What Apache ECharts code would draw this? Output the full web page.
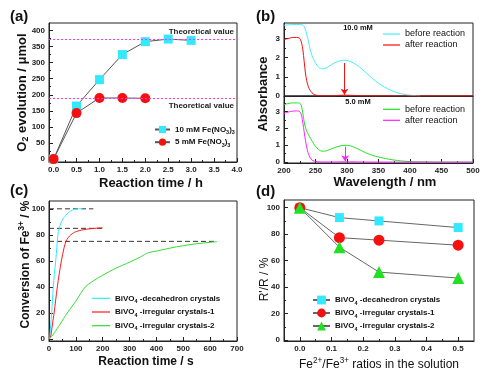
<!DOCTYPE html>
<html>
<head>
<meta charset="utf-8">
<script src="https://cdn.jsdelivr.net/npm/echarts@6/dist/echarts.min.js"></script>
<style>
html, body { margin: 0; padding: 0; background: #fff; }
#chart { width: 486px; height: 375px; }
</style>
</head>
<body>
<div id="chart"></div>
<script>
var FONT = '"Liberation Sans", Arial, sans-serif';

// (a) O2 evolution vs time
var aTime10 = [0, 0.5, 1.0, 1.5, 2.0, 2.5, 3.0];
var aO2Fe10 = [0, 165, 247, 325, 365, 373, 369];
var aTime5 = [0, 0.5, 1.0, 1.5, 2.0];
var aO2Fe5 = [0, 143, 190, 190, 189];
var aTheory = [374, 188];
var aXTicks = [0, 0.5, 1, 1.5, 2, 2.5, 3, 3.5, 4];
var aYTicks = [0, 50, 100, 150, 200, 250, 300, 350, 400];

// (b) absorbance spectra
var wl10Before = [200, 205, 210, 215, 220, 225, 229, 232, 235, 238, 241, 244, 247, 250, 253, 256, 260, 265, 270, 275, 280, 285, 290, 295, 300, 305, 310, 315, 320, 325, 330, 340, 350, 360, 370, 380, 390, 400, 410, 416];
var abs10Before = [3.68, 3.70, 3.71, 3.72, 3.72, 3.72, 3.70, 3.62, 3.35, 2.95, 2.5, 2.15, 1.9, 1.72, 1.58, 1.47, 1.41, 1.44, 1.52, 1.62, 1.72, 1.79, 1.84, 1.86, 1.85, 1.80, 1.72, 1.62, 1.50, 1.36, 1.22, 0.92, 0.66, 0.46, 0.29, 0.17, 0.09, 0.04, 0.02, 0.01];
var wl10After = [200, 205, 210, 215, 220, 224, 226, 228, 230, 232, 234, 236, 238, 240, 243, 246, 250, 255, 260, 270, 280, 285, 290, 300, 310, 315, 320, 340, 400, 500];
var abs10After = [2.93, 2.98, 3.02, 3.05, 3.05, 3.02, 2.95, 2.75, 2.40, 1.80, 1.20, 0.80, 0.55, 0.38, 0.22, 0.12, 0.05, 0.02, 0.01, 0.005, 0.01, 0.03, 0.04, 0.04, 0.03, 0.02, 0.01, 0.005, 0, 0];
var wl5Before = [200, 205, 210, 215, 220, 225, 227, 229, 231, 233, 236, 239, 242, 245, 249, 254, 260, 266, 272, 280, 288, 297, 305, 313, 321, 329, 337, 345, 353, 361, 370, 380, 390, 400, 415, 430, 460, 500];
var abs5Before = [3.40, 3.46, 3.50, 3.51, 3.51, 3.50, 3.40, 3.10, 2.65, 2.20, 1.85, 1.63, 1.40, 1.22, 0.98, 0.78, 0.65, 0.66, 0.74, 0.86, 0.95, 1.00, 0.97, 0.86, 0.72, 0.57, 0.45, 0.35, 0.28, 0.22, 0.15, 0.10, 0.06, 0.03, 0.015, 0.005, 0, 0];
var wl5After = [200, 205, 210, 215, 220, 224, 226, 228, 230, 232, 234, 236, 238, 240, 243, 246, 250, 255, 260, 280, 290, 300, 310, 320, 340, 500];
var abs5After = [2.88, 2.95, 3.0, 3.03, 3.04, 3.02, 2.95, 2.75, 2.30, 1.80, 1.30, 0.90, 0.58, 0.38, 0.18, 0.09, 0.04, 0.02, 0.01, 0.01, 0.02, 0.02, 0.02, 0.01, 0.005, 0];
var arrow10 = [296, 1.72, 0.07];   // wavelength, from, to
var arrow5 = [297, 0.92, 0.05];
var bXTicks = [200, 250, 300, 350, 400, 450, 500];
var bYTicks = [0, 1, 2, 3];

// (c) conversion of Fe3+
var cDecaT = [0, 3, 6, 10, 13, 16, 20, 25, 29, 33, 38, 46, 54, 62, 72, 82, 95, 110, 125];
var cDecaC = [0, 2, 10, 20, 30, 40, 50, 60, 70, 80, 85, 90, 93, 95, 97, 98.5, 99.5, 100, 100.2];
var cIrr1T = [0, 5, 8, 12, 16, 19, 25, 31, 38, 46, 56, 63, 72, 81, 95, 112, 130, 150, 175, 200];
var cIrr1C = [0, 1, 4, 10, 16, 20, 30, 40, 50, 60, 70, 75, 78, 80, 82, 83.2, 84, 84.6, 85.1, 85.4];
var cIrr2T = [0, 10, 20, 30, 40, 55, 68, 85, 100, 118, 135, 160, 200, 250, 300, 340, 370, 400, 450, 500, 550, 600, 625];
var cIrr2C = [0, 2, 5, 8, 11, 16, 20, 25, 29, 35, 40, 44, 49, 54.5, 59, 63, 66.3, 67.5, 69.8, 71.7, 73.2, 74.3, 74.8];
var cLevels = [100, 85, 75];
var cLevelEnds = [165, 200, 625];
var cXTicks = [0, 100, 200, 300, 400, 500, 600, 700];
var cYTicks = [0, 20, 40, 60, 80, 100];

// (d) R'/R vs Fe2+/Fe3+ ratio
var dRatio = [0, 0.125, 0.25, 0.5];
var dDeca = [100, 92.5, 90, 85];
var dIrr1 = [100, 77.4, 75.5, 71.7];
var dIrr2 = [100, 70.2, 51.4, 46.9];
var dXTicks = [0, 0.1, 0.2, 0.3, 0.4, 0.5];
var dYTicks = [0, 20, 40, 60, 80, 100];

function pairs(xs, ys) { return xs.map(function (x, i) { return [x, ys[i]]; }); }
function steps(a, b, s) { var out = []; for (var v = a; v <= b + 1e-9; v += s) out.push(+v.toFixed(6)); return out; }
function fmt1(v) { return v.toFixed(1); }
function fmt0(v) { return String(Math.round(v)); }

function richFor(size, weight) {
  return {
    sub: { fontFamily: FONT, fontSize: size * 0.68, fontWeight: weight, color: '#111', lineHeight: size * 0.68, verticalAlign: 'bottom' },
    sup: { fontFamily: FONT, fontSize: size * 0.68, fontWeight: weight, color: '#111', lineHeight: size * 0.68, verticalAlign: 'top' }
  };
}
function nameStyle(size, weight, pad) {
  return { fontFamily: FONT, fontSize: size, fontWeight: weight, color: '#111', lineHeight: size + 3, padding: pad || 0, rich: richFor(size, weight) };
}

var xAxes = [], yAxes = [];
function axisPair(list, grid, pos, min, max, ticks, minors, fmt, extra) {
  var major = {
    type: 'value', gridIndex: grid, position: pos, min: min, max: max,
    nameMoveOverlap: false,
    axisLine: { show: true, onZero: false, lineStyle: { color: '#222', width: 1 } },
    axisTick: { show: true, inside: true, length: 4, customValues: ticks, lineStyle: { color: '#222', width: 1 } },
    axisLabel: { show: true, customValues: ticks, formatter: fmt, fontFamily: FONT, fontSize: 8, fontWeight: 'bold', color: '#222', margin: 4 },
    splitLine: { show: false }
  };
  Object.assign(major, extra || {});
  list.push(major);
  var idx = list.length - 1;
  if (minors) {
    list.push({
      type: 'value', gridIndex: grid, position: pos, min: min, max: max,
      axisLine: { show: false, onZero: false },
      axisTick: { show: true, inside: true, length: 2, customValues: minors, lineStyle: { color: '#222', width: 1 } },
      axisLabel: { show: false }, splitLine: { show: false }
    });
  }
  return idx;
}

// axes
var axA = axisPair(xAxes, 0, 'bottom', -0.1, 4, aXTicks, steps(0.25, 3.75, 0.5), fmt1,
  { name: 'Reaction time / h', nameLocation: 'middle', nameGap: 13, nameTextStyle: nameStyle(13, 'bold', [0, 0, 0, 16]) });
var ayA = axisPair(yAxes, 0, 'left', -9, 423, aYTicks, steps(25, 375, 50), fmt0,
  { name: 'O{sub|2} evolution / \u03bcmol', nameLocation: 'middle', nameGap: 19, nameTextStyle: nameStyle(13, 'bold') });

var axBt = axisPair(xAxes, 1, 'bottom', 200, 500, [], null, fmt0,
  { axisTick: { show: false }, axisLabel: { show: false } });
var ayBt = axisPair(yAxes, 1, 'left', 0, 3.8, bYTicks, steps(0.5, 3.5, 1), fmt0);
var axBb = axisPair(xAxes, 2, 'bottom', 200, 500, bXTicks, steps(225, 475, 50), fmt0,
  { name: 'Wavelength / nm', nameLocation: 'middle', nameGap: 11, nameTextStyle: nameStyle(13, 'bold', [0, 0, 0, 13]) });
var ayBb = axisPair(yAxes, 2, 'left', -0.05, 3.92, bYTicks, steps(0.5, 3.5, 1), fmt0);

var axC = axisPair(xAxes, 3, 'bottom', 0, 700, cXTicks, steps(50, 650, 100), fmt0,
  { name: 'Reaction time / s', nameLocation: 'middle', nameGap: 13, nameTextStyle: nameStyle(12, 'bold', [0, 0, 0, 6]) });
var ayC = axisPair(yAxes, 3, 'left', -1.5, 106, cYTicks, steps(10, 90, 20), fmt0,
  { name: 'Conversion of Fe{sup|3+} / %', nameLocation: 'middle', nameGap: 16, nameTextStyle: nameStyle(12, 'bold', [0, 0, 0, 13]) });

var axD = axisPair(xAxes, 4, 'bottom', -0.05, 0.55, dXTicks, steps(0.05, 0.45, 0.1), fmt1,
  { name: 'Fe{sup|2+}/Fe{sup|3+} ratios in the solution', nameLocation: 'middle', nameGap: 16, nameTextStyle: nameStyle(12, 'normal') });
var ayD = axisPair(yAxes, 4, 'left', -0.6, 105.8, dYTicks, steps(10, 90, 20), fmt0,
  { name: "R'/R / %", nameLocation: 'middle', nameGap: 12, nameTextStyle: nameStyle(12, 'normal', [0, 18, 0, 0]) });

var CYAN = '#33e8ff', RED = '#f51010', GREEN = '#22e022', MAGENTA = '#ff22ff';

function curve(name, xi, yi, xs, ys, color) {
  return {
    name: name, type: 'line', xAxisIndex: xi, yAxisIndex: yi, data: pairs(xs, ys),
    symbol: 'none', smooth: 0.3, color: color, lineStyle: { color: color, width: 1 }, silent: true
  };
}
function arrowLine(a, color) {
  return {
    silent: true, symbol: ['none', 'arrow'], symbolSize: 6, label: { show: false },
    lineStyle: { color: color, width: 1, type: 'solid' },
    data: [[{ coord: [a[0], a[1]] }, { coord: [a[0], a[2]] }]]
  };
}
function theoryLine(v, pos) {
  return {
    silent: true, symbol: 'none',
    lineStyle: { color: '#ff33ff', width: 1, type: [2, 2] },
    label: { show: true, position: pos, formatter: 'Theoretical value', distance: 3, fontFamily: FONT, fontSize: 8, fontWeight: 'bold', color: '#222' },
    data: [{ yAxis: v }]
  };
}

var series = [];
// (a)
series.push({
  name: 'a10', type: 'line', xAxisIndex: axA, yAxisIndex: ayA, data: pairs(aTime10, aO2Fe10),
  symbol: 'rect', symbolSize: 9, color: CYAN, itemStyle: { color: CYAN },
  lineStyle: { color: '#555', width: 1 }, markLine: theoryLine(aTheory[0], 'insideEndTop')
});
series.push({
  name: 'a5', type: 'line', xAxisIndex: axA, yAxisIndex: ayA, data: pairs(aTime5, aO2Fe5),
  symbol: 'circle', symbolSize: 10, color: RED, itemStyle: { color: RED },
  lineStyle: { color: '#555', width: 1 }, markLine: theoryLine(aTheory[1], 'insideEndBottom')
});
// (b)
series.push(curve('before reaction', axBt, ayBt, wl10Before, abs10Before, '#44eeff'));
var s = curve('after reaction', axBt, ayBt, wl10After, abs10After, RED);
s.markLine = arrowLine(arrow10, RED);
series.push(s);
series.push(curve('before reaction ', axBb, ayBb, wl5Before, abs5Before, GREEN));
s = curve('after reaction ', axBb, ayBb, wl5After, abs5After, MAGENTA);
s.markLine = arrowLine(arrow5, MAGENTA);
series.push(s);
// (c)
cLevels.forEach(function (lv, i) {
  series.push({
    name: 'level' + i, type: 'line', xAxisIndex: axC, yAxisIndex: ayC,
    data: [[0, lv], [cLevelEnds[i], lv]], symbol: 'none', silent: true,
    lineStyle: { color: '#333', width: 1, type: [5, 3] }
  });
});
series.push(curve('c-deca', axC, ayC, cDecaT, cDecaC, '#30ecff'));
series.push(curve('c-irr1', axC, ayC, cIrr1T, cIrr1C, '#ff1a1a'));
series.push(curve('c-irr2', axC, ayC, cIrr2T, cIrr2C, '#33dd33'));
// (d)
[['d-deca', dDeca, 'rect', 9, CYAN], ['d-irr1', dIrr1, 'circle', 11, RED], ['d-irr2', dIrr2, 'triangle', 12, GREEN]].forEach(function (d) {
  series.push({
    name: d[0], type: 'line', xAxisIndex: axD, yAxisIndex: ayD, data: pairs(dRatio, d[1]),
    symbol: d[2], symbolSize: d[3], color: d[4], itemStyle: { color: d[4] },
    lineStyle: { color: '#666', width: 1 }
  });
});

var legendNames = {
  'a10': '10 mM Fe(NO{sub|3}){sub|3}',
  'a5': '5 mM Fe(NO{sub|3}){sub|3}',
  'before reaction': 'before reaction', 'after reaction': 'after reaction',
  'before reaction ': 'before reaction', 'after reaction ': 'after reaction',
  'c-deca': 'BiVO{sub|4} -decahedron crystals', 'c-irr1': 'BiVO{sub|4} -irregular crystals-1', 'c-irr2': 'BiVO{sub|4} -irregular crystals-2',
  'd-deca': 'BiVO{sub|4} -decahedron crystals', 'd-irr1': 'BiVO{sub|4} -irregular crystals-1', 'd-irr2': 'BiVO{sub|4} -irregular crystals-2'
};
function legendAt(left, top, names, w, h, gap, weight, size, icon) {
  var lg = {
    left: left, top: top, orient: 'vertical', padding: 0, itemGap: gap,
    itemWidth: w, itemHeight: h, selectedMode: false, data: names,
    formatter: function (n) { return legendNames[n]; },
    textStyle: { fontFamily: FONT, fontSize: size, fontWeight: weight, color: '#111', lineHeight: 11, rich: richFor(size, weight) }
  };
  if (icon) lg.icon = icon;
  return lg;
}

var option = {
  animation: false,
  textStyle: { fontFamily: FONT },
  grid: [
    { left: 49, top: 23, width: 188, height: 139 },
    { left: 284, top: 23, width: 189, height: 73 },
    { left: 284, top: 96, width: 189, height: 67 },
    { left: 49, top: 201, width: 188, height: 140 },
    { left: 284, top: 200, width: 190, height: 141 }
  ].map(function (g) {
    return Object.assign(g, { show: true, borderColor: '#222', borderWidth: 1, backgroundColor: 'transparent', containLabel: false, outerBoundsMode: 'none' });
  }),
  xAxis: xAxes,
  yAxis: yAxes,
  legend: [
    legendAt(154, 124, ['a10', 'a5'], 15, 9, 1.7, 'bold', 8),
    legendAt(383, 28.5, ['before reaction', 'after reaction'], 17, 1.2, 0, 'normal', 9, 'rect'),
    legendAt(383, 103.8, ['before reaction ', 'after reaction '], 17, 1.2, 0, 'normal', 9, 'rect'),
    legendAt(92, 292.8, ['c-deca', 'c-irr1', 'c-irr2'], 18, 1.2, 2.7, 'bold', 8, 'rect'),
    legendAt(312, 294.5, ['d-deca', 'd-irr1', 'd-irr2'], 17, 11, 2, 'bold', 8)
  ],
  graphic: [
    { type: 'text', x: 10, y: 17, style: { text: '(a)', font: 'bold 15px ' + FONT, fill: '#111', verticalAlign: 'middle', textVerticalAlign: 'middle' } },
    { type: 'text', x: 256, y: 17, style: { text: '(b)', font: 'bold 15px ' + FONT, fill: '#111', verticalAlign: 'middle', textVerticalAlign: 'middle' } },
    { type: 'text', x: 10, y: 191, style: { text: '(c)', font: 'bold 15px ' + FONT, fill: '#111', verticalAlign: 'middle', textVerticalAlign: 'middle' } },
    { type: 'text', x: 256, y: 192, style: { text: '(d)', font: 'bold 15px ' + FONT, fill: '#111', verticalAlign: 'middle', textVerticalAlign: 'middle' } },
    { type: 'text', x: 358, y: 28, style: { text: '10.0 mM', font: 'bold 7.5px ' + FONT, fill: '#111', align: 'center', textAlign: 'center', verticalAlign: 'middle', textVerticalAlign: 'middle' } },
    { type: 'text', x: 358, y: 101.5, style: { text: '5.0 mM', font: 'bold 7.5px ' + FONT, fill: '#111', align: 'center', textAlign: 'center', verticalAlign: 'middle', textVerticalAlign: 'middle' } },
    { type: 'text', x: 263.5, y: 94, rotation: Math.PI / 2, style: { text: 'Absorbance', font: 'bold 13px ' + FONT, fill: '#111', align: 'center', textAlign: 'center', verticalAlign: 'middle', textVerticalAlign: 'middle' } }
  ],
  series: series
};

var chart = echarts.init(document.getElementById('chart'), null, { renderer: 'canvas' });
chart.setOption(option);
</script>
</body>
</html>
